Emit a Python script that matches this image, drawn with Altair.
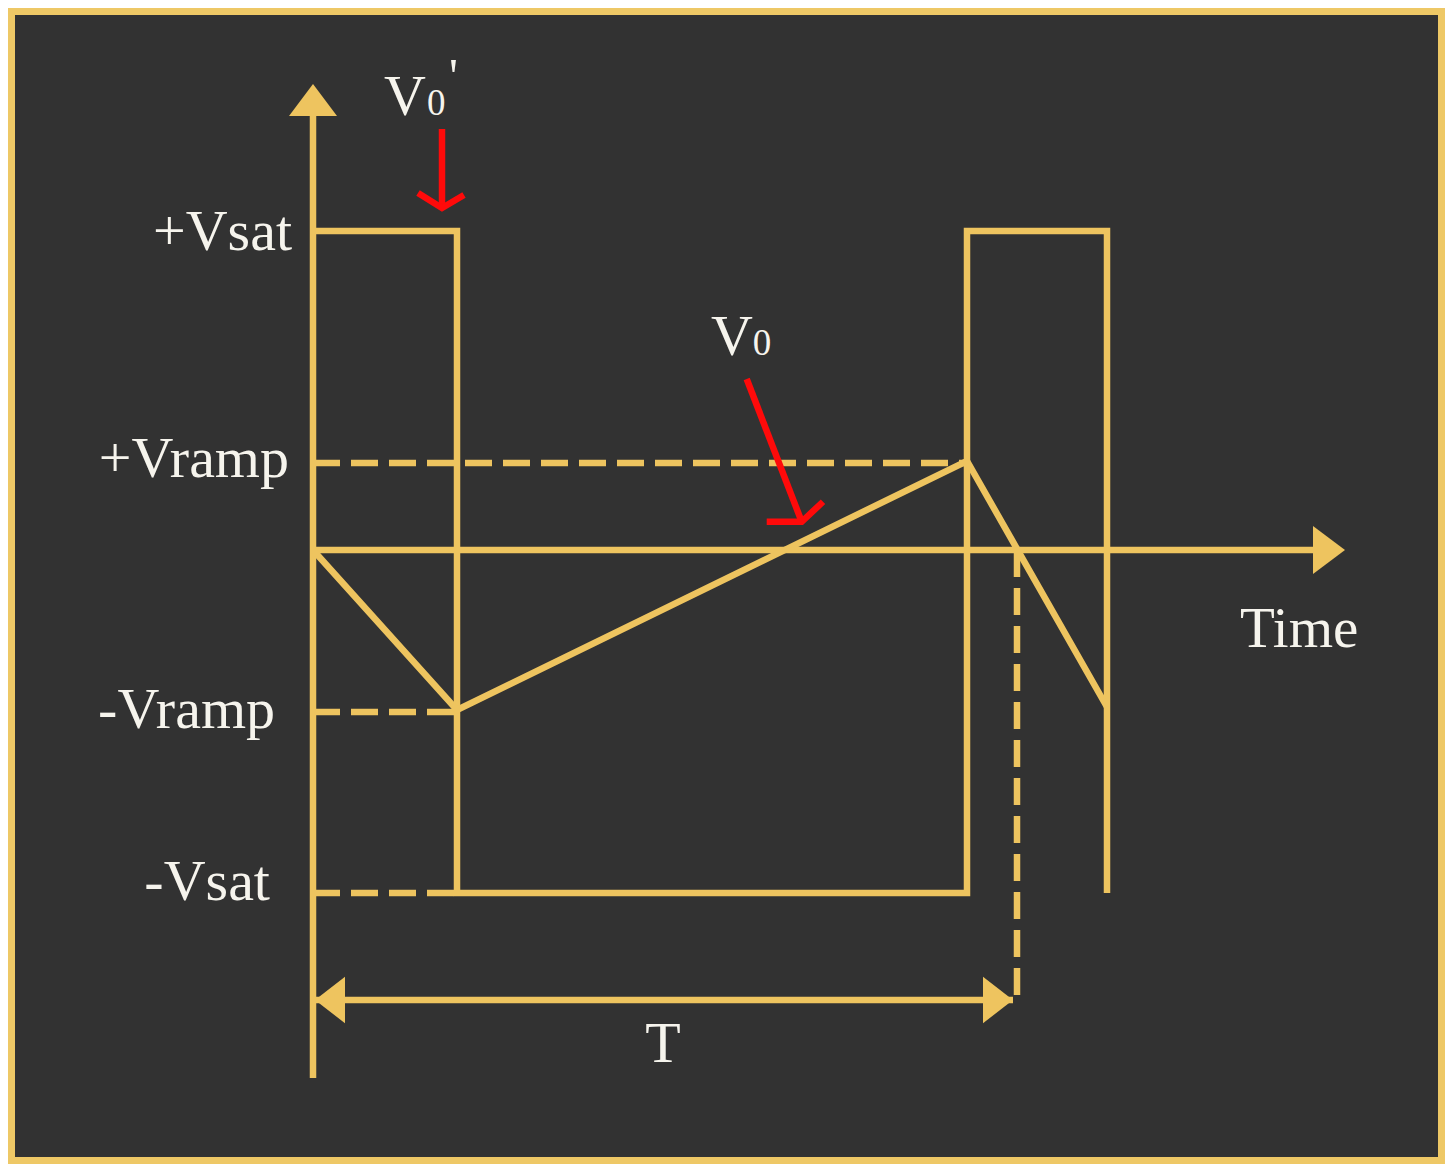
import altair as alt
import pandas as pd

# ---- data (time in arbitrary units, voltage in arbitrary volts) ----
VSAT_POS = 12.76
VSAT_NEG = -13.72
VRAMP_POS = 3.48
VRAMP_NEG = -6.48
ZERO_CROSS_T = 70.4
PERIOD_T = 70.0

square_t = [0, 14.4, 14.4, 65.4, 65.4, 79.4, 79.4]
square_v = [VSAT_POS, VSAT_POS, VSAT_NEG, VSAT_NEG, VSAT_POS, VSAT_POS, VSAT_NEG]

ramp_t = [0, 14.4, 65.4, 79.4]
ramp_v = [0, -6.4, 3.56, -6.28]

# axes extents
yaxis_v = [-21.12, 17.36]
xaxis_t = [0, 100.0]
T_level = -18.0

# red annotation arrows
v0p_shaft_t = [12.9, 12.9]
v0p_shaft_v = [16.84, 13.7]
v0p_head_t = [10.5, 12.9, 15.1]
v0p_head_v = [14.28, 13.68, 14.2]

v0_shaft_t = [43.37, 48.87]
v0_shaft_v = [6.84, 1.13]
v0_head_t = [45.37, 48.87, 51.0]
v0_head_v = [1.13, 1.13, 1.93]

# labels
left_labels = ["+Vsat", "+Vramp", "-Vramp", "-Vsat"]
left_label_t = [-2.1, -2.4, -3.8, -4.3]
left_label_v = [12.0, 2.92, -7.12, -14.0]

W, H = 1437, 1156
XDOM = [-30.5, 113.2]
YDOM = [-24.56, 21.68]

LINE = "#EEC45F"
RED = "#FF0A0A"
TXT = "#F6F4ED"
BG = "#323232"
BORDER = "#EEC866"
FONT = "Liberation Serif"

xs = alt.Scale(domain=XDOM, nice=False, zero=False)
ys = alt.Scale(domain=YDOM, nice=False, zero=False)


def enc(ch):
    return ch.encode(
        x=alt.X("t:Q", scale=xs, axis=None),
        y=alt.Y("v:Q", scale=ys, axis=None),
    )


def line(ts, vs, color=LINE, width=6.5, dash=None):
    df = pd.DataFrame({"t": ts, "v": vs, "i": list(range(len(ts)))})
    kw = dict(color=color, strokeWidth=width, strokeJoin="miter", strokeCap="butt")
    if dash:
        kw["strokeDash"] = dash
    return alt.Chart(df).mark_line(**kw).encode(
        x=alt.X("t:Q", scale=xs, axis=None),
        y=alt.Y("v:Q", scale=ys, axis=None),
        order=alt.Order("i:Q"),
    )


def head(t, v, shape, size):
    df = pd.DataFrame({"t": [t], "v": [v]})
    return enc(alt.Chart(df).mark_point(
        shape=shape, size=size, filled=True, color=LINE, opacity=1, strokeWidth=0))


def text(ts, vs, labels, size, align="left"):
    df = pd.DataFrame({"t": ts, "v": vs, "s": labels})
    return alt.Chart(df).mark_text(
        font=FONT, fontSize=size, align=align, baseline="alphabetic", color=TXT
    ).encode(
        x=alt.X("t:Q", scale=xs, axis=None),
        y=alt.Y("v:Q", scale=ys, axis=None),
        text="s:N",
    )


panel = alt.Chart(pd.DataFrame({"a": [0]})).mark_rect(color=BG).encode(
    x=alt.value(7), x2=alt.value(1430), y=alt.value(7), y2=alt.value(1149)
)

DASH = [27, 11]
layers = [
    panel,
    # dashed reference levels
    line([0, 65.4], [VRAMP_POS, VRAMP_POS], dash=DASH),
    line([0, 14.4], [VRAMP_NEG, VRAMP_NEG], dash=DASH),
    line([0, 14.4], [VSAT_NEG, VSAT_NEG], dash=DASH),
    line([ZERO_CROSS_T, ZERO_CROSS_T], [0, T_level], dash=DASH),
    # axes
    line([0, 0], yaxis_v),
    line(xaxis_t, [0, 0]),
    head(0, 18.0, "M0,-1L1.5,1L-1.5,1Z", 1024),
    head(101.6, 0, "M1,0L-1,-1.5L-1,1.5Z", 1024),
    # period arrow
    line([0, PERIOD_T], [T_level, T_level]),
    head(1.7, T_level, "M-1,0L1,-1.55L1,1.55Z", 900),
    head(68.5, T_level, "M1,0L-1,-1.55L-1,1.55Z", 900),
    # waveforms
    line(square_t, square_v),
    line(ramp_t, ramp_v),
    # red arrows
    line(v0p_shaft_t, v0p_shaft_v, color=RED, width=6.5),
    line(v0p_head_t, v0p_head_v, color=RED, width=6.5),
    line(v0_shaft_t, v0_shaft_v, color=RED, width=6.5),
    line(v0_head_t, v0_head_v, color=RED, width=6.5),
    # labels
    text(left_label_t, left_label_v, left_labels, 58, align="right"),
    text([92.7], [-3.88], ["Time"], 57),
    text([35.0], [-20.48], ["T"], 58, align="center"),
    text([7.1], [17.4], ["V"], 58),
    text([11.4], [17.4], ["0"], 37),
    text([13.6], [18.28], ["'"], 50),
    text([39.8], [7.8], ["V"], 58),
    text([43.97], [7.8], ["0"], 37),
]

chart = alt.layer(*layers).properties(
    width=W, height=H, padding=0, autosize=alt.AutoSizeParams(type="none"),
    background=BORDER,
).configure_view(strokeWidth=0)

chart.save("out.html", embed_options={"renderer": "svg", "actions": False})
